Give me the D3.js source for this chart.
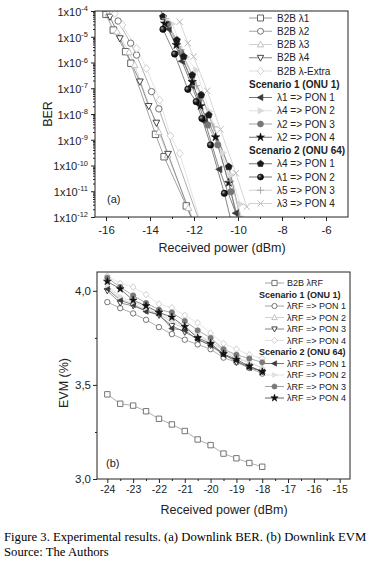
<!DOCTYPE html>
<html><head><meta charset="utf-8">
<script src="https://cdn.jsdelivr.net/npm/d3@7"></script>
<style>
body{margin:0;background:#fff}
svg{display:block}
text{font-family:"Liberation Sans",Arial,sans-serif;fill:#222}
</style>
</head><body>
<svg id="c" width="378" height="564"></svg>
<script>
// ================= DATA =================
// Panel (a): BER vs received power. Powers in dBm, BER given as log10 exponent.
const berExpTicks = [-12,-11,-10,-9,-8,-7,-6,-5,-4];
const berXTicks = [-16,-14,-12,-10,-8,-6];
const berXMinor = [-15,-13,-11,-9,-7];

const b2b1P = [-16.0,-15.67,-15.11,-14.87,-13.75,-13.36,-12.35,-12.0];
const b2b1E = [-4.13,-4.74,-5.58,-6.03,-8.79,-9.66,-11.57,-12.3];
const b2b2P = [-15.45,-14.88,-14.61,-13.93,-13.6,-11.7];
const b2b2E = [-4.39,-5.25,-5.71,-7.13,-7.8,-12.3];
const b2b3P = [-15.9,-15.5,-14.95,-14.7,-13.6,-13.2,-12.25,-11.9];
const b2b3E = [-4.1,-4.8,-5.6,-6.1,-8.7,-9.6,-11.65,-12.4];
const b2b4P = [-15.82,-15.37,-14.46,-14.06,-13.71,-13.18,-12.0];
const b2b4E = [-4.22,-5.06,-6.74,-7.69,-8.34,-9.55,-12.3];
const b2bXP = [-15.6,-15.25,-14.61,-14.16,-13.56,-13.07,-12.65,-11.7];
const b2bXE = [-4.1,-4.54,-5.45,-6.23,-7.46,-8.85,-9.53,-12.2];

const s1p1P = [-13.6,-13.15,-12.55,-12.1,-11.5,-10.85,-10.1];
const s1p1E = [-3.8,-4.7,-5.95,-6.9,-8.3,-10.15,-11.85];
const s1p2P = [-13.0,-12.35,-11.9,-11.3,-10.7,-10.32,-9.9];
const s1p2E = [-4.5,-5.8,-6.3,-7.9,-9.5,-10.37,-11.5];
const s1p3P = [-13.2,-12.6,-11.78,-11.37,-10.92,-10.32,-9.95];
const s1p3E = [-4.5,-5.6,-7.46,-8.43,-9.2,-11.02,-12.2];
const s1p4P = [-13.33,-12.8,-12.08,-11.7,-11.02,-10.42,-10.0];
const s1p4E = [-4.48,-5.32,-6.75,-7.69,-8.9,-10.67,-12.2];
const s2p1P = [-13.41,-12.78,-12.47,-12.08,-11.67,-11.33,-10.42,-9.85];
const s2p1E = [-4.22,-5.13,-5.77,-6.49,-7.26,-8.04,-10.05,-12.2];
const s2p2P = [-13.41,-12.88,-12.28,-11.9,-11.64,-11.25,-10.62,-10.3];
const s2p2E = [-4.71,-5.67,-7.04,-7.52,-8.17,-9.2,-11.08,-12.2];
const s2p3P = [-13.3,-12.6,-11.9,-11.1,-10.35,-9.8];
const s2p3E = [-4.3,-5.5,-6.9,-8.5,-10.6,-12.1];
const s2p4P = [-12.65,-12.28,-12.02,-11.4,-10.8,-10.1,-9.6];
const s2p4E = [-4.42,-5.25,-5.77,-7.1,-8.6,-10.3,-11.6];

// Panel (b): EVM (%) vs received power (dBm)
const evmXTicks = [-24,-23,-22,-21,-20,-19,-18,-17,-16,-15];
const evmXMinor = [-23.5,-22.5,-21.5,-20.5,-19.5,-18.5,-17.5,-16.5,-15.5];
const evmYTicks = [3.0,3.5,4.0];
const evmYMinor = [3.25,3.75];
const evmP = [-24,-23.5,-23,-22.5,-22,-21.5,-21,-20.5,-20,-19.5,-19,-18.5,-18];
const evmB2B  = [3.45,3.40,3.39,3.36,3.32,3.29,3.255,3.21,3.18,3.135,3.11,3.085,3.065];
const evmS1P1 = [3.94,3.908,3.88,3.846,3.807,3.77,3.74,3.715,3.69,3.645,3.62,3.59,3.56];
const evmS1P2 = [4.02,3.96,3.93,3.90,3.88,3.83,3.80,3.76,3.73,3.68,3.64,3.62,3.59];
const evmS1P3 = [4.00,3.935,3.92,3.895,3.87,3.815,3.78,3.745,3.71,3.665,3.62,3.60,3.57];
const evmS1P4 = [4.08,4.04,4.02,3.98,3.93,3.91,3.87,3.83,3.775,3.72,3.69,3.66,3.64];
const evmS2P1 = [4.01,3.95,3.925,3.89,3.875,3.80,3.79,3.74,3.71,3.66,3.63,3.59,3.575];
const evmS2P2 = [4.03,3.97,3.94,3.91,3.89,3.84,3.81,3.77,3.73,3.69,3.65,3.62,3.59];
const evmS2P3 = [4.07,4.02,3.975,3.935,3.90,3.885,3.84,3.79,3.75,3.69,3.66,3.64,3.62];
const evmS2P4 = [4.05,4.01,3.95,3.92,3.885,3.86,3.81,3.75,3.72,3.665,3.635,3.60,3.57];

// ================= SHAPES =================
function shape(t, r){
  switch(t){
    case 'square': return `M${-r},${-r}h${2*r}v${2*r}h${-2*r}Z`;
    case 'circle': return d3.arc()({innerRadius:0,outerRadius:r,startAngle:0,endAngle:2*Math.PI});
    case 'triUp': return `M0,${-r*1.15}L${r*1.05},${r*0.8}L${-r*1.05},${r*0.8}Z`;
    case 'triDown': return `M0,${r*1.15}L${r*1.05},${-r*0.8}L${-r*1.05},${-r*0.8}Z`;
    case 'triLeft': return `M${-r*1.15},0L${r*0.8},${-r*1.05}L${r*0.8},${r*1.05}Z`;
    case 'triRight': return `M${r*1.15},0L${-r*0.8},${-r*1.05}L${-r*0.8},${r*1.05}Z`;
    case 'diamond': return `M0,${-r*1.25}L${r*1.05},0L0,${r*1.25}L${-r*1.05},0Z`;
    case 'star': return d3.symbol(d3.symbolStar, r*r*1.7)();
    case 'pentagon': {
      let p=[]; for(let i=0;i<5;i++){const a=-Math.PI/2+i*2*Math.PI/5; p.push([r*1.15*Math.cos(a), r*1.15*Math.sin(a)]);}
      return 'M'+p.map(q=>q.join(',')).join('L')+'Z';
    }
    case 'plus': return `M${-r*1.2},0H${r*1.2}M0,${-r*1.2}V${r*1.2}`;
    case 'x': return `M${-r},${-r}L${r},${r}M${-r},${r}L${r},${-r}`;
  }
}
const openShapes = new Set(['plus','x']);

const svg = d3.select('#c');
const defs = svg.append('defs');
const rg = defs.append('radialGradient').attr('id','sph').attr('cx','35%').attr('cy','35%').attr('r','70%');
rg.append('stop').attr('offset','0%').attr('stop-color','#aaa');
rg.append('stop').attr('offset','45%').attr('stop-color','#222');
rg.append('stop').attr('offset','100%').attr('stop-color','#000');

function drawMarker(g, st, r){
  const p = g.append('path').attr('d', shape(st.sym, r));
  if(openShapes.has(st.sym)) p.attr('fill','none').attr('stroke',st.stroke).attr('stroke-width',1);
  else p.attr('fill',st.fill).attr('stroke',st.stroke).attr('stroke-width',st.fill==='#fff'?0.9:0.6);
  return p;
}

// ================= PANEL (a) =================
const xA = d3.scaleLinear([-16.5,-5],[95,348]);
const yA = d3.scaleLog([1e-12,1e-4],[217,11]);

const topSeries = [
  {name:'B2B λ1', P:b2b1P, E:b2b1E, sym:'square', fill:'#fff', stroke:'#555', line:'#888'},
  {name:'B2B λ2', P:b2b2P, E:b2b2E, sym:'circle', fill:'#fff', stroke:'#666', line:'#999'},
  {name:'B2B λ3', P:b2b3P, E:b2b3E, sym:'triUp', fill:'#fff', stroke:'#bbb', line:'#ccc'},
  {name:'B2B λ4', P:b2b4P, E:b2b4E, sym:'triDown', fill:'#fff', stroke:'#333', line:'#777'},
  {name:'B2B λ-Extra', P:b2bXP, E:b2bXE, sym:'diamond', fill:'#fff', stroke:'#ccc', line:'#ddd'},
  {header:'Scenario 1 (ONU 1)'},
  {name:'λ1 => PON 1', P:s1p1P, E:s1p1E, sym:'triLeft', fill:'#3a3a3a', stroke:'#3a3a3a', line:'#666'},
  {name:'λ4 => PON 2', P:s1p2P, E:s1p2E, sym:'triRight', fill:'#d8d8d8', stroke:'#d8d8d8', line:'#ddd'},
  {name:'λ2 => PON 3', P:s1p3P, E:s1p3E, sym:'circle', fill:'#777', stroke:'#777', line:'#999'},
  {name:'λ2 => PON 4', P:s1p4P, E:s1p4E, sym:'star', fill:'#111', stroke:'#111', line:'#666'},
  {header:'Scenario 2 (ONU 64)'},
  {name:'λ4 => PON 1', P:s2p1P, E:s2p1E, sym:'pentagon', fill:'#1a1a1a', stroke:'#1a1a1a', line:'#666'},
  {name:'λ1 => PON 2', P:s2p2P, E:s2p2E, sym:'circle', fill:'url(#sph)', stroke:'#000', line:'#666'},
  {name:'λ5 => PON 3', P:s2p3P, E:s2p3E, sym:'plus', fill:'none', stroke:'#aaa', line:'#ccc'},
  {name:'λ3 => PON 4', P:s2p4P, E:s2p4E, sym:'x', fill:'none', stroke:'#bbb', line:'#ccc'},
];

defs.append('clipPath').attr('id','clipA').append('rect')
  .attr('x',95).attr('y',11).attr('width',253).attr('height',206);

const gA = svg.append('g');
const plotA = gA.append('g').attr('clip-path','url(#clipA)');
const lineA = d3.line().x(d=>xA(d[0])).y(d=>yA(Math.pow(10,d[1])));
topSeries.filter(s=>!s.header).forEach(s=>{
  const pts = s.P.map((p,i)=>[p,s.E[i]]);
  plotA.append('path').attr('d',lineA(pts)).attr('fill','none')
    .attr('stroke',s.line).attr('stroke-width',0.8);
});
topSeries.filter(s=>!s.header).forEach(s=>{
  s.P.forEach((p,i)=>{
    const g = plotA.append('g').attr('transform',`translate(${xA(p)},${yA(Math.pow(10,s.E[i]))})`);
    drawMarker(g, s, s.sym==='star'?3.6:3.2);
  });
});

// frame
gA.append('rect').attr('x',95).attr('y',11).attr('width',253).attr('height',206)
  .attr('fill','none').attr('stroke','#222').attr('stroke-width',1);

// axes
const axXA = gA.append('g').attr('transform','translate(0,217)')
  .call(d3.axisBottom(xA).tickValues(berXTicks).tickSize(4).tickPadding(5).tickFormat(d=>d));
const axXAm = gA.append('g').attr('transform','translate(0,217)')
  .call(d3.axisBottom(xA).tickValues(berXMinor).tickSize(2).tickFormat(''));
const majorY = berExpTicks.map(e=>Math.pow(10,e));
const minorY = [];
berExpTicks.slice(0,-1).forEach(e=>{for(let m=2;m<=9;m++) minorY.push(m*Math.pow(10,e));});
const axYA = gA.append('g').attr('transform','translate(95,0)')
  .call(d3.axisLeft(yA).tickValues(majorY).tickSize(4).tickPadding(3).tickFormat(()=>''));
const axYAm = gA.append('g').attr('transform','translate(95,0)')
  .call(d3.axisLeft(yA).tickValues(minorY).tickSize(2).tickFormat(''));
[axXA,axXAm,axYA,axYAm].forEach(a=>{a.select('.domain').remove(); a.selectAll('line').attr('stroke','#222');});
axXA.selectAll('text').attr('font-size','11.5px').attr('fill','#222');
axYA.selectAll('.tick text').each(function(d){
  const t = d3.select(this).attr('font-size','11px').attr('fill','#222').attr('dy','0.4em');
  t.text('1x10');
  t.append('tspan').attr('dy','-0.65em').attr('font-size','7.5px').text(String(Math.round(Math.log10(d))));
});

gA.append('text').attr('transform','translate(48,114) rotate(-90)')
  .attr('text-anchor','middle').attr('dy','0.35em').attr('font-size','12.5px').text('BER');
gA.append('text').attr('x',222).attr('y',252).attr('text-anchor','middle')
  .attr('font-size','12.5px').text('Received power (dBm)');
gA.append('text').attr('x',107).attr('y',203).attr('font-size','11px').text('(a)');

// legend (a)
const legA = gA.append('g');
topSeries.forEach((s,i)=>{
  const y = 18 + i*13.25;
  if(s.header){
    legA.append('text').attr('x',249).attr('y',y).attr('dy','0.35em')
      .attr('font-size','10px').attr('font-weight','bold').text(s.header);
    return;
  }
  legA.append('line').attr('x1',249).attr('x2',272).attr('y1',y).attr('y2',y)
    .attr('stroke',s.line).attr('stroke-width',0.9);
  const g = legA.append('g').attr('transform',`translate(260.5,${y})`);
  drawMarker(g, s, s.sym==='star'?3.4:3.0);
  legA.append('text').attr('x',277).attr('y',y).attr('dy','0.35em').attr('font-size','10px').text(s.name);
});

// ================= PANEL (b) =================
const xB = d3.scaleLinear([-24.4,-14.6],[97,350]);
const yB = d3.scaleLinear([3.0,4.1],[479,272]);

const botSeries = [
  {name:'B2B λRF', V:evmB2B, sym:'square', fill:'#fff', stroke:'#666', line:'#999'},
  {header:'Scenario 1 (ONU 1)'},
  {name:'λRF => PON 1', V:evmS1P1, sym:'circle', fill:'#fff', stroke:'#666', line:'#999'},
  {name:'λRF => PON 2', V:evmS1P2, sym:'triUp', fill:'#fff', stroke:'#bbb', line:'#ccc'},
  {name:'λRF => PON 3', V:evmS1P3, sym:'triDown', fill:'#fff', stroke:'#333', line:'#777'},
  {name:'λRF => PON 4', V:evmS1P4, sym:'diamond', fill:'#fff', stroke:'#ccc', line:'#ddd'},
  {header:'Scenario 2 (ONU 64)'},
  {name:'λRF => PON 1', V:evmS2P1, sym:'triLeft', fill:'#3a3a3a', stroke:'#3a3a3a', line:'#666'},
  {name:'λRF => PON 2', V:evmS2P2, sym:'triRight', fill:'#e0e0e0', stroke:'#e0e0e0', line:'#ddd'},
  {name:'λRF => PON 3', V:evmS2P3, sym:'circle', fill:'#7a7a7a', stroke:'#7a7a7a', line:'#999'},
  {name:'λRF => PON 4', V:evmS2P4, sym:'star', fill:'#111', stroke:'#111', line:'#555'},
];

const gB = svg.append('g');
const lineB = d3.line().x(d=>xB(d[0])).y(d=>yB(d[1]));
botSeries.filter(s=>!s.header).forEach(s=>{
  gB.append('path').attr('d',lineB(evmP.map((p,i)=>[p,s.V[i]]))).attr('fill','none')
    .attr('stroke',s.line).attr('stroke-width',0.8);
});
botSeries.filter(s=>!s.header).forEach(s=>{
  evmP.forEach((p,i)=>{
    const g = gB.append('g').attr('transform',`translate(${xB(p)},${yB(s.V[i])})`);
    drawMarker(g, s, s.sym==='star'?3.3:2.7);
  });
});
gB.append('rect').attr('x',97).attr('y',272).attr('width',253).attr('height',207)
  .attr('fill','none').attr('stroke','#222').attr('stroke-width',1);

const axXB = gB.append('g').attr('transform','translate(0,479)')
  .call(d3.axisBottom(xB).tickValues(evmXTicks).tickSize(4).tickPadding(3).tickFormat(d=>d));
const axXBm = gB.append('g').attr('transform','translate(0,479)')
  .call(d3.axisBottom(xB).tickValues(evmXMinor).tickSize(2).tickFormat(''));
const axYB = gB.append('g').attr('transform','translate(97,0)')
  .call(d3.axisLeft(yB).tickValues(evmYTicks).tickSize(4).tickPadding(2).tickFormat(d=>d.toFixed(1).replace('.',',')));
const axYBm = gB.append('g').attr('transform','translate(97,0)')
  .call(d3.axisLeft(yB).tickValues(evmYMinor).tickSize(2).tickFormat(''));
[axXB,axXBm,axYB,axYBm].forEach(a=>{a.select('.domain').remove(); a.selectAll('line').attr('stroke','#222');});
axXB.selectAll('text').attr('font-size','10.5px').attr('fill','#222');
axYB.selectAll('text').attr('font-size','11.5px').attr('fill','#222');

gB.append('text').attr('transform','translate(64,383) rotate(-90)')
  .attr('text-anchor','middle').attr('dy','0.35em').attr('font-size','12.5px').text('EVM (%)');
gB.append('text').attr('x',224).attr('y',514).attr('text-anchor','middle')
  .attr('font-size','12.5px').text('Received power (dBm)');
gB.append('text').attr('x',106).attr('y',467).attr('font-size','11px').text('(b)');

const legB = gB.append('g');
botSeries.forEach((s,i)=>{
  const y = 283 + i*11.5;
  if(s.header){
    legB.append('text').attr('x',259).attr('y',y).attr('dy','0.35em')
      .attr('font-size','9px').attr('font-weight','bold').text(s.header);
    return;
  }
  legB.append('line').attr('x1',265).attr('x2',284).attr('y1',y).attr('y2',y)
    .attr('stroke',s.line).attr('stroke-width',0.9);
  const g = legB.append('g').attr('transform',`translate(274.5,${y})`);
  drawMarker(g, s, s.sym==='star'?3.1:2.6);
  legB.append('text').attr('x',287).attr('y',y).attr('dy','0.35em').attr('font-size','9px').text(s.name);
});

// ================= CAPTION =================
const cap = svg.append('g');
cap.append('text').attr('x',4).attr('y',541).attr('font-size','12.7px')
  .style('font-family','"Liberation Serif","Times New Roman",serif').style('fill','#000')
  .text('Figure 3. Experimental results. (a) Downlink BER. (b) Downlink EVM');
cap.append('text').attr('x',4).attr('y',556).attr('font-size','12.7px')
  .style('font-family','"Liberation Serif","Times New Roman",serif').style('fill','#000')
  .text('Source: The Authors');
</script>
</body></html>
